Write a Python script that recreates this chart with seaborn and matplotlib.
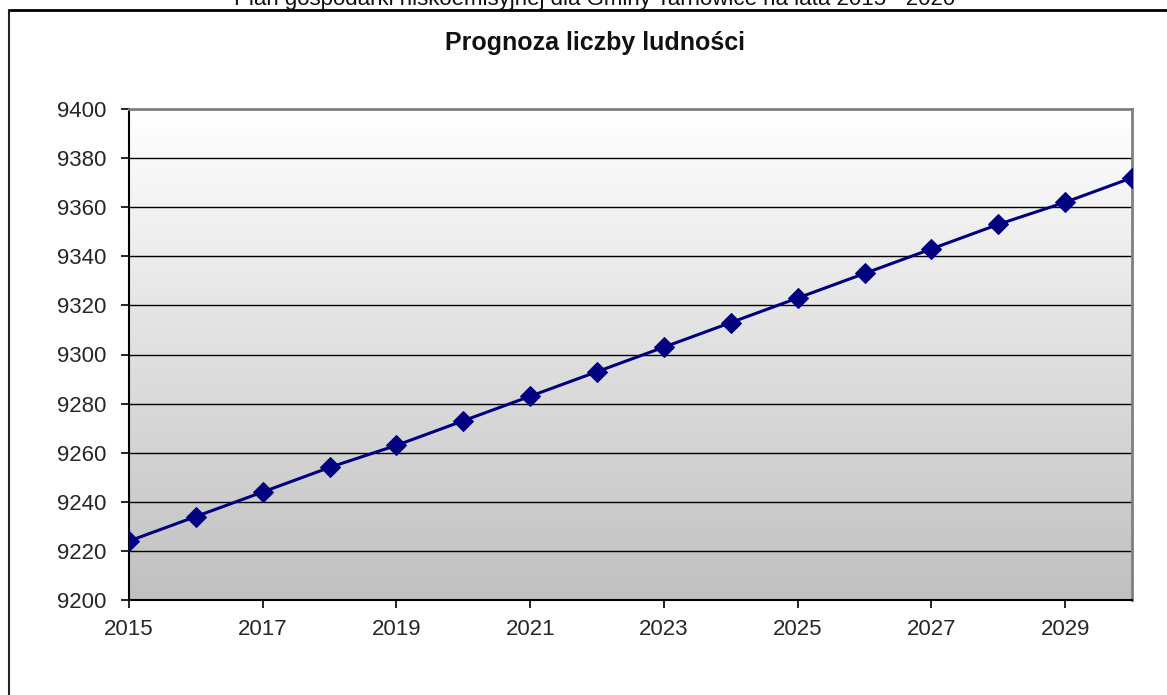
import numpy as np
import pandas as pd
import matplotlib
matplotlib.use('Agg')
import matplotlib.pyplot as plt
import seaborn as sns
from matplotlib.lines import Line2D

# Population forecast
years = [2015, 2016, 2017, 2018, 2019, 2020, 2021, 2022,
         2023, 2024, 2025, 2026, 2027, 2028, 2029, 2030]
population = [9224, 9234, 9244, 9254, 9263, 9273, 9283, 9293,
              9303, 9313, 9323, 9333, 9343, 9353, 9362, 9372]
x_ticks = [2015, 2017, 2019, 2021, 2023, 2025, 2027, 2029]
y_ticks = [9200, 9220, 9240, 9260, 9280, 9300, 9320, 9340, 9360, 9380, 9400]

df = pd.DataFrame({'rok': years, 'ludnosc': population})

sns.set_style('white')
plt.rcParams['font.family'] = ['Liberation Sans', 'DejaVu Sans']

fig = plt.figure(figsize=(11.67, 6.95), dpi=100)
ax = fig.add_axes([129 / 1167, 1 - 600 / 695, (1132 - 129) / 1167, (600 - 109) / 695])

# white (top) to grey (bottom) gradient for the plot area
grad = np.linspace(0, 1, 256).reshape(-1, 1)
cmap = matplotlib.colors.LinearSegmentedColormap.from_list('g', ['#ffffff', '#c0c0c0'])
ax.imshow(grad, cmap=cmap, extent=[2015, 2030, 9200, 9400], origin='upper',
          aspect='auto', zorder=0)

sns.lineplot(data=df, x='rok', y='ludnosc', ax=ax, color='#000080', linewidth=2.2,
             marker='D', markersize=10, markeredgecolor='#000080', zorder=3)

ax.set_xlim(2015, 2030)
ax.set_ylim(9200, 9400)
ax.set_xticks(x_ticks)
ax.set_yticks(y_ticks)
ax.set_xticklabels([str(t) for t in x_ticks])
ax.set_axisbelow(True)
ax.yaxis.grid(True, color='black', linewidth=1.0)
ax.set_xlabel('')
ax.set_ylabel('')
ax.tick_params(axis='both', labelsize=16, length=6, width=1.2, direction='out',
               color='black', labelcolor='#262626', bottom=True, left=True)
ax.tick_params(axis='y', pad=10)
ax.tick_params(axis='x', pad=8)

for side in ['left', 'bottom']:
    ax.spines[side].set_color('black')
    ax.spines[side].set_linewidth(1.5)
for side in ['top', 'right']:
    ax.spines[side].set_color('#808080')
    ax.spines[side].set_linewidth(2)

fig.text(595 / 1167, 1 - 43 / 695, 'Prognoza liczby ludności', ha='center', va='center',
         fontsize=18, fontweight='bold', color='#111111')

# cut-off page header and chart frame
fig.text(595 / 1167, 1.0, 'Plan gospodarki niskoemisyjnej dla Gminy Tarnowice na lata 2015 - 2020',
         ha='center', va='center', fontsize=16, color='#111111')
fig.add_artist(Line2D([9 / 1167, 1], [1 - 10 / 695, 1 - 10 / 695], transform=fig.transFigure,
                      color='black', linewidth=2))
fig.add_artist(Line2D([9 / 1167, 9 / 1167], [0, 1 - 10 / 695], transform=fig.transFigure,
                      color='#222222', linewidth=1.5))

fig.savefig('out.png', dpi=100)
